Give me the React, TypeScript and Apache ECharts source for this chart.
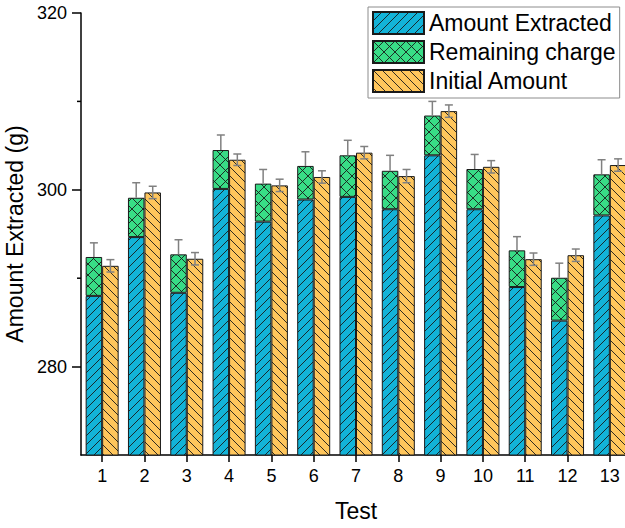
import React, { useEffect, useRef } from 'react';
import * as echarts from 'echarts';

const categories = ['1', '2', '3', '4', '5', '6', '7', '8', '9', '10', '11', '12', '13'];
const amountExtracted = [288.0, 294.65, 288.35, 300.1, 296.4, 298.9, 299.2, 297.8, 303.9, 297.8, 289.0, 285.2, 297.1];
const remainingCharge = [4.4, 4.45, 4.35, 4.4, 4.3, 3.8, 4.7, 4.35, 4.5, 4.55, 4.15, 4.85, 4.65];
const initialAmount = [291.4, 299.7, 292.2, 303.4, 300.5, 301.45, 304.2, 301.55, 308.9, 302.6, 292.15, 292.6, 302.8];
const remainingError = [1.6, 1.7, 1.65, 1.7, 1.6, 1.6, 1.7, 1.75, 1.6, 1.65, 1.55, 1.65, 1.65];
const initialError = [0.7, 0.7, 0.7, 0.65, 0.7, 0.7, 0.7, 0.75, 0.7, 0.7, 0.7, 0.7, 0.7];
const yTicks = [280, 300, 320];
const yMinorTicks = [290, 310];

const FONT = "'Liberation Sans', Arial, sans-serif";
const LINE = '#1a1a1a';
const BAR_FRACTION = 0.78;

function makePattern(bg: string, kind: 'fwd' | 'back' | 'cross', size: number) {
  const c = document.createElement('canvas');
  c.width = size;
  c.height = size;
  const ctx = c.getContext('2d')!;
  ctx.fillStyle = bg;
  ctx.fillRect(0, 0, size, size);
  ctx.strokeStyle = LINE;
  ctx.lineWidth = 0.9;
  const fwd = () => {
    ctx.beginPath();
    ctx.moveTo(-1, size + 1);
    ctx.lineTo(size + 1, -1);
    ctx.moveTo(-1, 1);
    ctx.lineTo(1, -1);
    ctx.moveTo(size - 1, size + 1);
    ctx.lineTo(size + 1, size - 1);
    ctx.stroke();
  };
  const back = () => {
    ctx.beginPath();
    ctx.moveTo(-1, -1);
    ctx.lineTo(size + 1, size + 1);
    ctx.moveTo(size - 1, -1);
    ctx.lineTo(size + 1, 1);
    ctx.moveTo(-1, size - 1);
    ctx.lineTo(1, size + 1);
    ctx.stroke();
  };
  if (kind === 'fwd') fwd();
  else if (kind === 'back') back();
  else {
    fwd();
    back();
  }
  return { image: c, repeat: 'repeat' };
}

export default function App() {
  const ref = useRef<HTMLDivElement>(null);

  useEffect(() => {
    if (!ref.current) return;
    const chart = echarts.init(ref.current, null, { renderer: 'svg' });

    const bluePat = makePattern('#12b3d8', 'fwd', 9);
    const greenPat = makePattern('#38dc86', 'cross', 11);
    const orangePat = makePattern('#ffc65c', 'back', 9);

    const errorRender = (side: number, both: boolean) => (params: any, api: any) => {
      const i = api.value(0);
      const top = api.value(1);
      const err = api.value(2);
      const catW = api.size([1, 0])[0];
      const barW = (catW * BAR_FRACTION) / 2;
      const p = api.coord([i, top]);
      const cx = p[0] + (side * barW) / 2;
      const yUp = api.coord([i, top + err])[1];
      const yDown = both ? api.coord([i, top - err])[1] : p[1];
      const cap = 4;
      const style = { stroke: '#808080', lineWidth: 1.5 };
      const children: any[] = [
        { type: 'line', shape: { x1: cx, y1: yDown, x2: cx, y2: yUp }, style },
        { type: 'line', shape: { x1: cx - cap, y1: yUp, x2: cx + cap, y2: yUp }, style },
      ];
      if (both) {
        children.push({ type: 'line', shape: { x1: cx - cap, y1: yDown, x2: cx + cap, y2: yDown }, style });
      }
      return { type: 'group', children };
    };

    const option: any = {
      animation: false,
      grid: { left: 81, top: 13, width: 550, height: 442, outerBoundsMode: 'none', containLabel: false },
      legend: {
        orient: 'vertical',
        left: 368,
        top: 7,
        data: ['Amount Extracted', 'Remaining charge', 'Initial Amount'],
        icon: 'rect',
        itemWidth: 51,
        itemHeight: 22,
        itemGap: 5,
        padding: [4, 4, 5, 4],
        borderColor: '#8c8c8c',
        borderWidth: 1,
        textStyle: { fontSize: 23, color: '#000', fontFamily: FONT },
      },
      xAxis: {
        type: 'category',
        data: categories,
        name: 'Test',
        nameLocation: 'middle',
        nameGap: 44,
        nameTextStyle: { fontSize: 23, color: '#000', fontFamily: FONT },
        axisLine: { show: true, lineStyle: { color: '#000', width: 1.5 } },
        axisTick: { show: true, alignWithLabel: true, length: 7, lineStyle: { color: '#000', width: 1.5 } },
        axisLabel: { fontSize: 18, color: '#000', margin: 12, fontFamily: FONT },
        splitLine: { show: false },
      },
      yAxis: {
        type: 'value',
        min: 270,
        max: 320,
        interval: 10,
        name: 'Amount Extracted (g)',
        nameLocation: 'middle',
        nameGap: 50,
        nameTextStyle: { fontSize: 23, color: '#000', fontFamily: FONT },
        axisLine: { show: true, lineStyle: { color: '#000', width: 1.5 } },
        axisTick: { show: true, length: 9, customValues: yTicks, lineStyle: { color: '#000', width: 1.5 } },
        axisLabel: { customValues: yTicks, fontSize: 18, color: '#000', margin: 14, fontFamily: FONT },
        splitLine: { show: false },
      },
      series: [
        {
          name: 'Amount Extracted',
          type: 'bar',
          stack: 'total',
          data: amountExtracted,
          barCategoryGap: '22%',
          barGap: '0%',
          itemStyle: { color: bluePat, borderColor: LINE, borderWidth: 1 },
        },
        {
          name: 'Remaining charge',
          type: 'bar',
          stack: 'total',
          data: remainingCharge,
          itemStyle: { color: greenPat, borderColor: LINE, borderWidth: 1 },
        },
        {
          name: 'Initial Amount',
          type: 'bar',
          data: initialAmount,
          barCategoryGap: '22%',
          barGap: '0%',
          itemStyle: { color: orangePat, borderColor: LINE, borderWidth: 1 },
        },
        {
          name: 'remErr',
          type: 'custom',
          z: 10,
          renderItem: errorRender(-1, false),
          encode: { x: 0, y: 1 },
          data: categories.map((_, i) => [i, amountExtracted[i] + remainingCharge[i], remainingError[i]]),
        },
        {
          name: 'initErr',
          type: 'custom',
          z: 10,
          renderItem: errorRender(1, true),
          encode: { x: 0, y: 1 },
          data: categories.map((_, i) => [i, initialAmount[i], initialError[i]]),
        },
        {
          name: 'minorTicks',
          type: 'custom',
          z: 10,
          clip: false,
          renderItem: (params: any, api: any) => {
            const p = api.coord([0, api.value(1)]);
            const x0 = params.coordSys.x;
            return {
              type: 'line',
              shape: { x1: x0 - 4, y1: p[1], x2: x0, y2: p[1] },
              style: { stroke: '#000', lineWidth: 1.5 },
            };
          },
          encode: { x: 0, y: 1 },
          data: yMinorTicks.map((v) => [0, v]),
        },
      ],
    };

    chart.setOption(option);
    return () => chart.dispose();
  }, []);

  return (
    <div
      ref={ref}
      style={{ position: 'fixed', left: 0, top: 0, width: 625, height: 528, background: '#fff' }}
    />
  );
}
